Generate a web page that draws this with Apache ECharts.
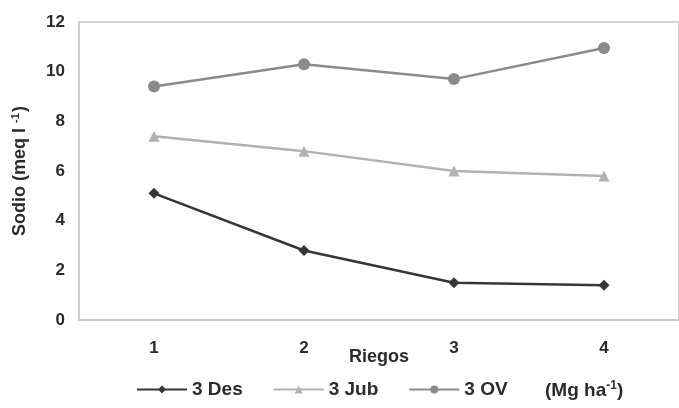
<!DOCTYPE html>
<html>
<head>
<meta charset="utf-8">
<script src="https://cdn.jsdelivr.net/npm/echarts@6/dist/echarts.min.js"></script>
<style>
  html, body { margin: 0; padding: 0; background: #fff; }
  #chart { width: 679px; height: 408px; }
</style>
</head>
<body>
<div id="chart"></div>
<script>
// Sodium in soil solution per irrigation event, three amendment treatments
const riegos = ['1', '2', '3', '4'];
const des3 = [5.1, 2.8, 1.5, 1.4];
const jub3 = [7.4, 6.8, 6.0, 5.8];
const ov3 = [9.4, 10.3, 9.7, 10.95];
const yTicks = { min: 0, max: 12, interval: 2 };

const FONT = '"Liberation Sans", Arial, sans-serif';
const TXT = '#2b2b2b';

const chart = echarts.init(document.getElementById('chart'), null, { renderer: 'canvas' });

chart.setOption({
  backgroundColor: '#ffffff',
  animation: false,
  textStyle: { fontFamily: FONT },
  grid: {
    left: 79, top: 22, width: 609, height: 298,
    show: true, borderColor: '#c8c8c8', borderWidth: 1.5, backgroundColor: 'transparent'
  },
  legend: {
    left: 131, top: 375,
    itemWidth: 50, itemHeight: 10, itemGap: 30,
    textStyle: { fontFamily: FONT, fontSize: 19, fontWeight: 'bold', color: TXT },
    data: ['3 Des', '3 Jub', '3 OV']
  },
  xAxis: {
    type: 'category',
    data: riegos,
    boundaryGap: true,
    name: 'Riegos',
    nameLocation: 'middle',
    nameGap: 28,
    nameMoveOverlap: false,
    nameTextStyle: { fontFamily: FONT, fontSize: 18, fontWeight: 'bold', color: TXT },
    axisLine: { show: true, lineStyle: { color: '#c8c8c8', width: 1.5 } },
    axisTick: { show: false },
    axisLabel: { margin: 20, fontSize: 17, fontWeight: 'bold', color: TXT, fontFamily: FONT },
    splitLine: { show: false }
  },
  yAxis: {
    type: 'value',
    min: yTicks.min, max: yTicks.max, interval: yTicks.interval,
    name: '{a|Sodio (meq l }{sup|-1}{a|)}',
    nameLocation: 'middle',
    nameGap: 49,
    nameMoveOverlap: false,
    nameRotate: 90,
    nameTextStyle: {
      fontFamily: FONT, fontSize: 18, fontWeight: 'bold', color: TXT,
      rich: {
        a: { fontFamily: FONT, fontSize: 18, fontWeight: 'bold', color: TXT },
        sup: { fontFamily: FONT, fontSize: 11, fontWeight: 'bold', color: TXT, verticalAlign: 'top', padding: [0, 1, 9, 0] }
      }
    },
    axisLine: { show: true, lineStyle: { color: '#c8c8c8', width: 1.5 } },
    axisTick: { show: false },
    axisLabel: { margin: 14, fontSize: 17, fontWeight: 'bold', color: TXT, fontFamily: FONT },
    splitLine: { show: false }
  },
  series: [
    {
      name: '3 Des', type: 'line', data: des3,
      symbol: 'diamond', symbolSize: 11,
      lineStyle: { color: '#363636', width: 2.5 },
      itemStyle: { color: '#363636' }
    },
    {
      name: '3 Jub', type: 'line', data: jub3,
      symbol: 'triangle', symbolSize: 11,
      lineStyle: { color: '#b2b2b2', width: 2.5 },
      itemStyle: { color: '#b2b2b2' }
    },
    {
      name: '3 OV', type: 'line', data: ov3,
      symbol: 'circle', symbolSize: 12,
      lineStyle: { color: '#8a8a8a', width: 2.5 },
      itemStyle: { color: '#8a8a8a' }
    }
  ],
  graphic: [
    {
      type: 'text', left: 545, top: 380,
      style: {
        text: '(Mg ha{sup|-1})',
        rich: { sup: { fontSize: 12, fontWeight: 'bold', verticalAlign: 'top', padding: [0, 0, 10, 0], fill: TXT } },
        font: 'bold 19px ' + FONT, fill: TXT
      }
    }
  ]
});
</script>
</body>
</html>
